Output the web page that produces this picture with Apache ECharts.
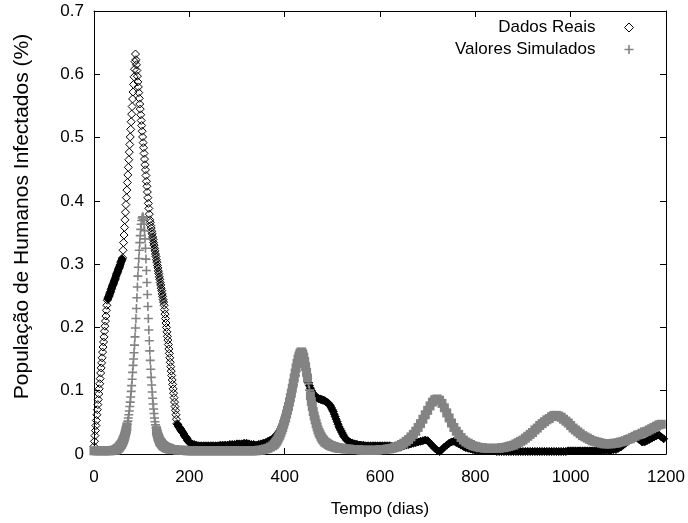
<!DOCTYPE html>
<html><head><meta charset="utf-8">
<script src="https://cdn.jsdelivr.net/npm/echarts@6/dist/echarts.min.js"></script>
<style>html,body{margin:0;padding:0;background:#fff}#c{width:688px;height:523px}</style>
</head><body><div id="c"></div>
<script>
// ---- data ----
const seriesNames = ['Dados Reais', 'Valores Simulados'];
const xTickValues = [0, 200, 400, 600, 800, 1000, 1200];
const yTickValues = [0, 0.1, 0.2, 0.3, 0.4, 0.5, 0.6, 0.7];

// Dados Reais, day 0..200 (daily)
const realStart1 = 0, realStep1 = 1;
const realValues1 = [
0.012,0.020,0.029,0.037,0.045,0.053,0.062,0.070,0.078,0.086,0.095,0.103,0.111,0.119,0.128,0.136,0.144,0.152,0.161,0.169,0.177,0.185,0.194,0.202,0.210,0.218,0.227,0.235,0.243,
0.245,0.247,0.249,0.251,0.253,0.255,0.257,0.260,0.262,0.264,0.266,0.268,0.270,0.272,0.274,0.276,0.278,0.281,0.283,0.285,0.287,0.289,0.291,0.293,0.295,0.297,0.299,0.302,0.304,0.306,0.308,0.310,
0.322,0.334,0.346,0.358,0.370,0.382,0.394,0.405,0.417,0.429,0.441,0.453,0.465,0.477,0.489,0.501,0.513,0.525,0.537,0.549,0.561,0.572,0.584,0.596,0.608,0.620,0.632,
0.623,0.615,0.606,0.597,0.588,0.580,0.571,0.562,0.553,0.545,0.536,0.527,0.519,0.510,0.501,0.492,0.484,0.475,0.466,0.457,0.449,0.440,0.431,0.423,0.414,0.405,0.396,0.388,0.379,0.370,
0.366,0.361,0.357,0.352,0.348,0.343,0.339,0.334,0.330,0.325,0.321,0.316,0.312,0.307,0.303,0.298,0.294,0.289,0.285,0.280,0.276,0.271,0.267,0.262,0.258,0.253,0.249,0.244,0.240,0.235,
0.228,0.221,0.214,0.207,0.200,0.193,0.186,0.180,0.173,0.166,0.159,0.152,0.145,0.138,0.131,0.124,0.117,0.110,0.103,0.096,0.089,0.082,0.075,0.069,0.062,0.055,0.048,
0.047,0.046,0.044,0.043,0.042,0.041,0.040,0.039,0.037,0.036,0.035,0.034,0.033,0.032,0.030,0.029,0.028,0.027,0.026,0.025,0.024,0.022,0.021,0.020,0.019,0.018
];
// Dados Reais, day 205..375 (every 5 days)
const realStart2 = 205, realStep2 = 5;
const realValues2 = [0.016,0.015,0.014,0.013,0.013,0.013,0.013,0.013,0.013,0.013,0.013,0.013,0.014,0.014,0.014,0.014,0.015,0.015,0.015,0.016,0.016,0.016,0.017,0.017,0.016,0.015,0.015,0.014,0.015,0.016,0.017,0.018,0.020,0.022,0.024];
// Dados Reais, day 378..560 (every 2 days)
const realStart3 = 378, realStep3 = 2;
const realValues3 = [
0.026,0.027,0.029,0.031,0.033,0.035,0.037,0.040,0.043,0.047,0.051,0.055,
0.060,0.065,0.070,0.076,0.082,0.089,0.096,0.103,0.110,0.117,0.124,0.131,0.138,0.145,0.151,
0.156,0.159,0.158,0.154,0.148,0.141,0.133,0.126,0.119,0.113,0.108,0.104,0.100,0.097,0.095,
0.093,0.091,0.090,0.089,0.088,0.087,0.087,0.086,0.086,0.085,0.085,0.084,0.083,0.082,0.081,
0.080,0.078,0.076,0.073,0.070,0.067,0.063,0.059,0.055,0.051,0.047,0.043,0.040,0.037,0.034,
0.031,0.028,0.026,0.024,0.022,0.021,0.020,0.019,0.018,0.017,0.017,0.016,0.016,0.015,0.015,0.015,0.014,0.014,0.014,0.014
];
// Dados Reais, day 565..1200 (every 5 days)
const realStart4 = 565, realStep4 = 5;
const realValues4 = [
0.014,0.013,0.013,0.013,0.013,0.013,0.013,0.013,0.013,0.013,0.013,0.013,0.012,0.012,0.012,0.012,0.012,
0.013,0.014,0.015,0.016,0.017,0.018,0.019,0.020,0.021,0.022,0.021,0.017,0.013,0.009,0.006,0.004,
0.007,0.011,0.014,0.017,0.019,0.020,0.018,0.016,0.014,0.012,0.010,0.009,0.008,0.007,0.006,0.006,
0.005,0.005,0.005,0.005,0.005,0.005,0.005,0.004,0.004,0.004,0.004,0.004,0.004,0.004,0.004,0.004,
0.004,0.004,0.004,0.004,0.004,0.004,0.004,0.004,0.004,0.004,0.004,0.004,0.004,0.004,0.004,0.004,
0.004,0.004,0.004,0.004,0.004,0.005,0.005,0.005,0.005,0.005,0.005,0.005,0.005,0.005,0.005,0.005,
0.005,0.005,0.005,0.006,0.006,0.006,0.006,0.006,0.007,0.007,0.009,0.011,0.014,0.017,0.020,0.023,
0.026,0.027,0.025,0.022,0.019,0.019,0.021,0.023,0.025,0.027,0.029,0.030,0.027,0.024
];

// Valores Simulados, day 0..45 (every 5 days)
const simStart1 = 0, simStep1 = 5;
const simValues1 = [0.005,0.005,0.005,0.005,0.005,0.005,0.005,0.005,0.006,0.006];
// Valores Simulados, day 46..160 (daily)
const simStart2 = 46, simStep2 = 1;
const simValues2 = [
0.007,0.007,0.008,0.008,0.009,0.009,0.010,0.011,0.012,0.013,0.014,0.015,0.016,0.018,0.019,
0.021,0.023,0.025,0.027,0.030,0.033,0.036,0.039,0.043,0.047,0.052,0.057,0.062,0.068,0.075,
0.082,0.090,0.099,0.108,0.118,0.129,0.140,0.150,0.160,0.172,0.185,0.199,0.214,0.230,0.247,
0.264,0.281,0.295,0.309,0.322,0.334,0.345,0.355,0.363,0.369,0.373,0.375,0.374,0.370,0.363,
0.353,0.340,0.325,0.308,0.290,0.271,0.252,0.233,0.214,0.196,0.179,0.163,0.148,0.134,0.121,
0.109,0.098,0.088,0.079,0.071,0.064,0.057,0.051,0.046,0.041,0.037,0.034,0.031,0.028,0.026,
0.024,0.022,0.020,0.019,0.018,0.017,0.016,0.015,0.014,0.013,0.013,0.012,0.012,0.011,0.011,
0.010,0.010,0.010,0.009,0.009,0.009,0.009,0.008,0.008,0.008
];
// Valores Simulados, day 165..375 (every 5 days)
const simStart3 = 165, simStep3 = 5;
const simValues3 = [
0.007,0.007,0.006,0.006,0.006,0.006,0.005,
0.005,0.005,0.005,0.005,0.005,0.005,0.005,0.005,0.005,0.005,0.005,0.005,0.005,0.005,0.005,
0.005,0.005,0.005,0.005,0.005,0.005,0.005,0.005,0.005,0.005,0.005,0.005,0.005,0.005,
0.006,0.006,0.007,0.008,0.009,0.011,0.013
];
// Valores Simulados, day 378..520 (every 2 days)
const simStart4 = 378, simStep4 = 2;
const simValues4 = [
0.015,0.017,0.019,0.021,0.024,0.027,0.030,0.034,0.038,0.042,0.047,0.052,
0.057,0.063,0.069,0.075,0.082,0.089,0.096,0.104,0.112,0.120,0.128,0.136,0.143,0.150,0.155,
0.159,0.161,0.161,0.158,0.153,0.146,0.138,0.129,0.120,0.111,0.101,0.092,0.083,0.075,0.067,
0.060,0.054,0.048,0.043,0.038,0.034,0.031,0.028,0.025,0.023,0.021,0.019,0.018,0.017,0.016,
0.015,0.014,0.013,0.013,0.012,0.012,0.011,0.011,0.010,0.010,0.010,0.009,0.009,0.009,0.009
];
// Valores Simulados, day 525..1200 (every 5 days)
const simStart5 = 525, simStep5 = 5;
const simValues5 = [
0.008,0.008,0.008,0.007,0.007,0.007,0.007,0.006,0.006,0.006,0.006,0.006,0.006,0.006,0.006,
0.007,0.007,0.007,0.008,0.008,0.009,0.010,0.011,0.013,0.015,0.017,0.020,0.023,0.027,0.031,
0.036,0.042,0.048,0.055,0.062,0.069,0.076,0.082,0.086,0.087,0.085,0.080,0.073,0.065,0.057,
0.049,0.042,0.036,0.031,0.026,0.022,0.019,0.017,0.015,0.013,0.012,0.011,0.010,0.010,0.009,
0.009,0.009,0.009,0.009,0.009,0.009,0.010,0.010,0.011,0.012,0.013,0.014,0.016,0.018,0.020,
0.022,0.025,0.028,0.031,0.034,0.038,0.041,0.045,0.048,0.051,0.054,0.056,0.059,0.061,0.061,
0.060,0.058,0.055,0.052,0.049,0.045,0.041,0.038,0.035,0.032,0.029,0.027,0.025,0.023,0.021,
0.020,0.019,0.018,0.017,0.016,0.016,0.016,0.016,0.017,0.017,0.018,0.019,0.020,0.021,0.023,
0.024,0.026,0.028,0.030,0.031,0.033,0.035,0.036,0.038,0.040,0.042,0.044,0.046,0.047
];

// ---- build ----
function seg(start, step, values) { return values.map((v, i) => [start + i * step, v]); }
const realData = [].concat(
  seg(realStart1, realStep1, realValues1), seg(realStart2, realStep2, realValues2),
  seg(realStart3, realStep3, realValues3), seg(realStart4, realStep4, realValues4));
const simData = [].concat(
  seg(simStart1, simStep1, simValues1), seg(simStart2, simStep2, simValues2),
  seg(simStart3, simStep3, simValues3), seg(simStart4, simStep4, simValues4),
  seg(simStart5, simStep5, simValues5));

const FONT = "'Liberation Sans', Arial, sans-serif";
const plusPath = 'path://M3.7,0H5.3V3.7H9V5.3H5.3V9H3.7V5.3H0V3.7H3.7Z';
const GRAY = '#838383';
const axisCommon = {
  type: 'value',
  axisLine: { show: true, onZero: false, lineStyle: { color: '#000', width: 1 } },
  axisTick: { show: true, inside: true, length: 6, lineStyle: { color: '#000' } },
  splitLine: { show: false }
};

const chart = echarts.init(document.getElementById('c'), null, { renderer: 'canvas' });
const baseOption = {
  animation: false,
  backgroundColor: '#fff',
  grid: { left: 94, right: 22, top: 11, bottom: 69 },
  legend: {
    orient: 'vertical', right: 49, top: 14, align: 'right',
    itemWidth: 9, itemHeight: 9, itemGap: 5,
    itemStyle: { borderWidth: 1 },
    textStyle: { fontSize: 17, color: '#000', fontFamily: FONT, padding: [0, 24, 0, 0] },
    data: [{ name: seriesNames[0], icon: 'diamond' }, { name: seriesNames[1], icon: plusPath }],
    selectedMode: false
  },
  xAxis: [
    Object.assign({}, axisCommon, {
      min: xTickValues[0], max: xTickValues[xTickValues.length - 1], interval: 200,
      axisLabel: { color: '#000', fontSize: 17, fontFamily: FONT, margin: 15, formatter: v => String(v) },
      name: 'Tempo (dias)', nameLocation: 'middle', nameGap: 47,
      nameTextStyle: { color: '#000', fontSize: 17, fontFamily: FONT }
    }),
    Object.assign({}, axisCommon, {
      position: 'top', min: 0, max: 1200, interval: 200, axisLabel: { show: false }
    })
  ],
  yAxis: [
    Object.assign({}, axisCommon, {
      min: yTickValues[0], max: yTickValues[yTickValues.length - 1], interval: 0.1,
      axisLabel: { color: '#000', fontSize: 17, fontFamily: FONT, margin: 10 },
      name: 'População de Humanos Infectados (%)', nameLocation: 'middle', nameGap: 61, nameRotate: 90,
      nameTextStyle: { color: '#000', fontSize: 21, fontFamily: FONT, padding: [0, 0, 0, 32] }
    }),
    Object.assign({}, axisCommon, {
      position: 'right', min: 0, max: 0.7, interval: 0.1, axisLabel: { show: false }
    })
  ],
  series: [
    {
      type: 'scatter', name: seriesNames[0], data: realData,
      symbol: 'diamond', symbolSize: 8, silent: true, clip: false,
      itemStyle: { color: 'rgba(0,0,0,0)', borderColor: '#000', borderWidth: 1, opacity: 1 }
    },
    {
      type: 'scatter', name: seriesNames[1], data: simData,
      symbol: plusPath, symbolSize: 9, silent: true, clip: false,
      itemStyle: { color: GRAY, opacity: 1 }
    }
  ]
};
chart.setOption(baseOption);

// Where the original daily markers overlap into a solid band (small change per day on screen),
// draw those markers as solid shapes so the band looks as dense as in the original.
const p0 = chart.convertToPixel({ gridIndex: 0 }, [0, 0]);
const p1 = chart.convertToPixel({ gridIndex: 0 }, [0, 0.1]);
const pxPerUnit = Math.abs(p0[1] - p1[1]) / 0.1;
function pxPerDay(data, i) {
  const s = [];
  if (i > 0) s.push(Math.abs(data[i][1] - data[i - 1][1]) / (data[i][0] - data[i - 1][0]));
  if (i < data.length - 1) s.push(Math.abs(data[i + 1][1] - data[i][1]) / (data[i + 1][0] - data[i][0]));
  return Math.max.apply(null, s) * pxPerUnit;
}
const realItems = realData.map((d, i) => {
  const r = pxPerDay(realData, i);
  if (r < 2.6 && d[1] < 0.35) return { value: d, itemStyle: { color: '#000' } };
  if (r < 3.6 && d[1] < 0.35) return { value: d, itemStyle: { color: 'rgba(0,0,0,0.22)' } };
  return { value: d };
});
const simItems = simData.map((d, i) => (pxPerDay(simData, i) < 3.0 && d[1] < 0.2)
  ? { value: d, symbol: 'rect', symbolSize: [9, 9] } : { value: d });
chart.setOption({ series: [{ data: realItems }, { data: simItems }] });
</script>
</body></html>
